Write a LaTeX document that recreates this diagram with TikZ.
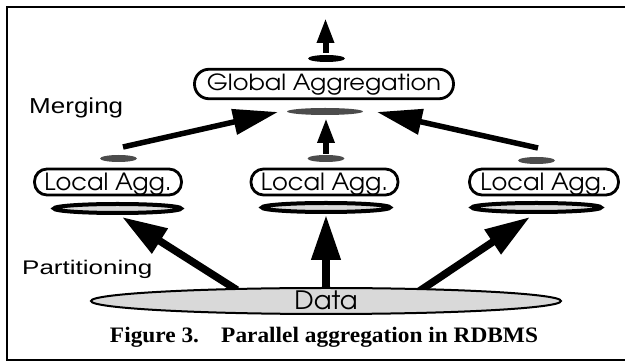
\documentclass[tikz,border=0pt]{standalone}
\usepackage{fontspec}
\usepackage{graphicx}
\usetikzlibrary{arrows.meta,shapes.geometric}
\newfontfamily\advfont{texgyreadventor-regular.otf}
\newfontfamily\arialfont{Liberation Sans}
\newfontfamily\capfont{Liberation Serif}
\newcommand{\fitt}[3]{\resizebox{#1pt}{#2pt}{#3}}
\definecolor{darkhatch}{gray}{0.3}
\definecolor{lighthatch}{gray}{0.86}
\definecolor{datafill}{gray}{0.85}
\tikzset{
  pill/.style={draw, line width=2.8pt, fill=white, inner sep=0pt},
  localbox/.style={pill, rounded corners=12.5pt, minimum width=147pt, minimum height=26pt,
      text height=17.5pt, text depth=0.1pt},
  darkell/.style={ellipse, fill=darkhatch, inner sep=0pt, minimum width=37pt, minimum height=7pt},
  blackell/.style={ellipse, fill=black, inner sep=0pt, minimum width=37pt, minimum height=7pt},
  ringell/.style={ellipse, draw, line width=4pt, fill=lighthatch, inner sep=0pt, minimum width=127pt, minimum height=9pt},
  dataell/.style={ellipse, draw, line width=2pt, fill=datafill, inner sep=0pt, minimum width=470pt, minimum height=26pt, text height=0pt, text depth=0pt},
  mergearrow/.style={line width=5.5pt, -{Triangle[length=45pt,width=25pt]}},
  partarrow/.style={line width=7.5pt, -{Triangle[length=45pt,width=28pt]}},
  smallarrow/.style={line width=6pt, -{Triangle[length=25pt,width=16pt]}},
  plainlabel/.style={inner sep=0pt}
}
\begin{document}
\begin{tikzpicture}[x=1pt,y=-1pt]
\useasboundingbox (0,0) rectangle (625,363);
\fill[white] (0,0) rectangle (625,363);
\draw[line width=2pt] (6.5,7) rectangle (632,360);

% coordinates for connector ends
\coordinate (os) at (325.5,53);
\coordinate (oe) at (325.5,18);
\coordinate (m1s) at (123,147);
\coordinate (m1e) at (278,112);
\coordinate (m2s) at (326,154);
\coordinate (m2e) at (326,118);
\coordinate (m3s) at (538,148);
\coordinate (m3e) at (377,112);
\coordinate (p1s) at (237,290);
\coordinate (p1e) at (122,217);
\coordinate (p2s) at (326,291);
\coordinate (p2e) at (326,215);
\coordinate (p3s) at (418,292);
\coordinate (p3e) at (530,217);

% arrows
\draw[smallarrow] (os) -- (oe);
\draw[smallarrow] (m2s) -- (m2e);
\draw[mergearrow] (m1s) -- (m1e);
\draw[mergearrow] (m3s) -- (m3e);
\draw[partarrow] (p1s) -- (p1e);
\draw[partarrow] (p2s) -- (p2e);
\draw[partarrow] (p3s) -- (p3e);

% top
\node[blackell] (gout) at (326.5,58.5) {};
\node[pill, rounded corners=14.5pt, minimum width=259pt, minimum height=29.5pt,
      text height=16.7pt, text depth=3.3pt] (glob) at (324,84)
      {\advfont\fitt{234}{16.7}{Global Aggregation}};
\node[darkell, minimum width=76pt] (gin) at (325,111.5) {};

% local aggregations
\node[darkell] (s1) at (118.5,158.5) {};
\node[darkell] (s2) at (326,158.5) {};
\node[darkell] (s3) at (536.5,160.5) {};

\node[localbox] (l1) at (108,182)
      {\advfont\fitt{127}{17.5}{Local Agg.}};
\node[localbox] (l2) at (324.5,182)
      {\advfont\fitt{127}{17.5}{Local Agg.}};
\node[localbox, minimum width=149pt] (l3) at (544,182)
      {\advfont\fitt{127}{17.5}{Local Agg.}};

\node[ringell] (r1) at (117.5,208.5) {};
\node[ringell, minimum width=128pt] (r2) at (326,207.5) {};
\node[ringell, minimum width=129pt] (r3) at (536.5,207.5) {};

% data
\node[dataell] (data) at (326,301)
      {\raisebox{-8.3pt}[0pt][0pt]{\advfont\fitt{63}{18.7}{Data}}};

% labels
\node[plainlabel, anchor=base west] (merg) at (29,113.3)
      {\arialfont\fitt{94}{15.7}{Merging}};
\node[plainlabel, anchor=base west] (part) at (22,274.3)
      {\arialfont\fitt{130}{14.3}{Partitioning}};
\node[plainlabel, anchor=base] (cap) at (324,343)
      {\capfont\bfseries\fitt{428}{15.3}{\fontsize{20}{24}\selectfont Figure 3.\hspace{0.95em}Parallel aggregation in RDBMS}};
\end{tikzpicture}
\end{document}
